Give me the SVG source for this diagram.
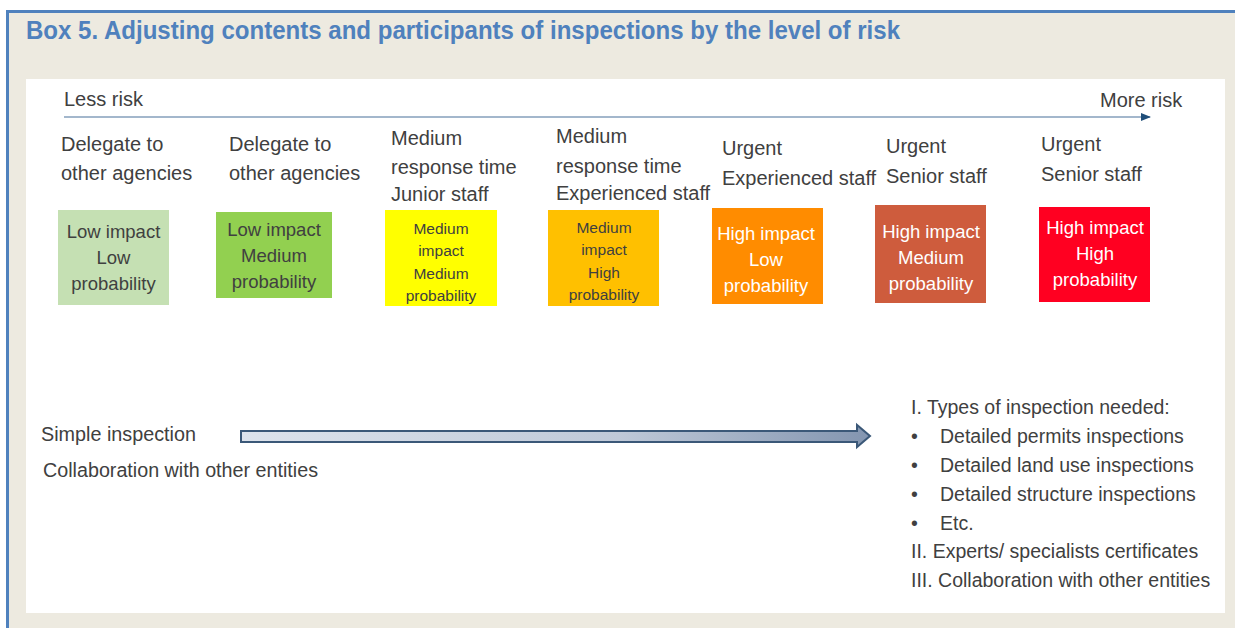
<svg xmlns="http://www.w3.org/2000/svg" width="1235" height="628" viewBox="0 0 1235 628">
<style>
text{font-family:"Liberation Sans",Arial,sans-serif;fill:#404040}
.h{font-size:20px}
.b{font-size:18.5px;text-anchor:middle}
.s{font-size:15.5px;text-anchor:middle}
.w{fill:#ffffff}
.l{font-size:19.5px}
.title{font-size:25px;font-weight:bold;fill:#4F81BD}
</style>
<defs>
<marker id="ah" markerWidth="10" markerHeight="8" refX="9" refY="4" orient="auto" markerUnits="userSpaceOnUse">
<path d="M0,0 L10,4 L0,8 Z" fill="#1F4E79"/>
</marker>
<linearGradient id="bg" x1="0" y1="0" x2="1" y2="0">
<stop offset="0" stop-color="#DDE3EC"/>
<stop offset="0.6" stop-color="#BFC9D8"/>
<stop offset="1" stop-color="#8395B0"/>
</linearGradient>
</defs>
<rect x="0" y="0" width="1235" height="628" fill="#ffffff"/>
<rect x="6" y="10" width="1229" height="618" fill="#EDEAE0"/>
<rect x="6" y="10" width="3" height="618" fill="#4F81BD"/>
<rect x="6" y="10" width="1229" height="3" fill="#4F81BD"/>
<text class="title" x="26" y="39" textLength="874" lengthAdjust="spacingAndGlyphs">Box 5. Adjusting contents and participants of inspections by the level of risk</text>
<rect x="26" y="79" width="1199" height="534" fill="#ffffff"/>

<g id="connectors">
<line x1="64" y1="117" x2="1150" y2="117" stroke="#A3B7CC" stroke-width="2" marker-end="url(#ah)"/>
<path d="M241,431 L857,431 L857,425 L870,436 L857,447 L857,442 L241,442 Z" fill="url(#bg)" stroke="#3B5878" stroke-width="2" stroke-linejoin="miter"/>
</g>

<g id="axis-labels">
<text class="h" x="64" y="106">Less risk</text>
<text class="h" x="1100" y="107">More risk</text>
</g>

<g id="col1">
<text class="h" x="61" y="151">Delegate to</text>
<text class="h" x="61" y="180">other agencies</text>
<rect x="58" y="210" width="111" height="95" fill="#C5E0B3"/>
<text class="b" x="113.5" y="238">Low impact</text>
<text class="b" x="113.5" y="264">Low</text>
<text class="b" x="113.5" y="290">probability</text>
</g>

<g id="col2">
<text class="h" x="229" y="151">Delegate to</text>
<text class="h" x="229" y="180">other agencies</text>
<rect x="216" y="212" width="116" height="86" fill="#92D050"/>
<text class="b" x="274" y="236">Low impact</text>
<text class="b" x="274" y="262">Medium</text>
<text class="b" x="274" y="288">probability</text>
</g>

<g id="col3">
<text class="h" x="391" y="145">Medium</text>
<text class="h" x="391" y="174">response time</text>
<text class="h" x="391" y="201">Junior staff</text>
<rect x="385" y="210" width="112" height="96" fill="#FFFF00"/>
<text class="s" x="441" y="234">Medium</text>
<text class="s" x="441" y="256">impact</text>
<text class="s" x="441" y="279">Medium</text>
<text class="s" x="441" y="301">probability</text>
</g>

<g id="col4">
<text class="h" x="556" y="143">Medium</text>
<text class="h" x="556" y="173">response time</text>
<text class="h" x="556" y="200">Experienced staff</text>
<rect x="548" y="210" width="111" height="96" fill="#FFC000"/>
<text class="s" x="604" y="233">Medium</text>
<text class="s" x="604" y="255">impact</text>
<text class="s" x="604" y="278">High</text>
<text class="s" x="604" y="300">probability</text>
</g>

<g id="col5">
<text class="h" x="722" y="155">Urgent</text>
<text class="h" x="722" y="185">Experienced staff</text>
<rect x="712" y="208" width="111" height="96" fill="#FF8C00"/>
<text class="b w" x="766" y="240">High impact</text>
<text class="b w" x="766" y="266">Low</text>
<text class="b w" x="766" y="292">probability</text>
</g>

<g id="col6">
<text class="h" x="886" y="153">Urgent</text>
<text class="h" x="886" y="183">Senior staff</text>
<rect x="875" y="205" width="111" height="98" fill="#CE5C3D"/>
<text class="b w" x="931" y="238">High impact</text>
<text class="b w" x="931" y="264">Medium</text>
<text class="b w" x="931" y="290">probability</text>
</g>

<g id="col7">
<text class="h" x="1041" y="151">Urgent</text>
<text class="h" x="1041" y="181">Senior staff</text>
<rect x="1039" y="207" width="111" height="95" fill="#FF0021"/>
<text class="b w" x="1095" y="234">High impact</text>
<text class="b w" x="1095" y="260">High</text>
<text class="b w" x="1095" y="286">probability</text>
</g>

<g id="left-labels">
<text x="41" y="441" style="font-size:19.5px" textLength="155" lengthAdjust="spacingAndGlyphs">Simple inspection</text>
<text x="43" y="477" style="font-size:19.5px" textLength="275" lengthAdjust="spacingAndGlyphs">Collaboration with other entities</text>
</g>

<g id="right-list">
<text class="l" x="911" y="414">I. Types of inspection needed:</text>
<text class="l" x="911" y="443">•</text>
<text class="l" x="940" y="443">Detailed permits inspections</text>
<text class="l" x="911" y="472">•</text>
<text class="l" x="940" y="472">Detailed land use inspections</text>
<text class="l" x="911" y="501">•</text>
<text class="l" x="940" y="501">Detailed structure inspections</text>
<text class="l" x="911" y="530">•</text>
<text class="l" x="940" y="530">Etc.</text>
<text class="l" x="911" y="558">II. Experts/ specialists certificates</text>
<text class="l" x="911" y="587">III. Collaboration with other entities</text>
</g>
</svg>
